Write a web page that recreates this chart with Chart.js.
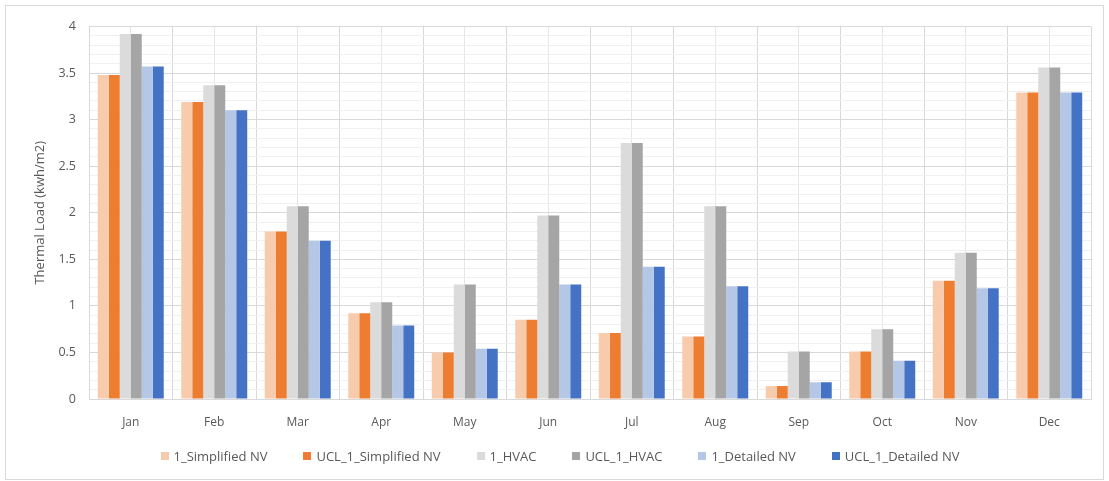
<!DOCTYPE html>
<html>
<head>
<meta charset="utf-8">
<script src="https://cdn.jsdelivr.net/npm/chart.js@4.4.1/dist/chart.umd.min.js"></script>
<style>
  html, body { margin: 0; padding: 0; background: #ffffff; }
  #frame {
    position: absolute; left: 5px; top: 5px;
    width: 1099px; height: 475px;
    box-sizing: border-box;
    border: 1px solid #d9d9d9;
    background: #ffffff;
  }
  #chart { display: block; }
  #legend {
    position: absolute; left: 0; top: 446px; width: 1120px; height: 20px;
    display: flex; justify-content: center; align-items: center;
    font-family: 'Open Sans', 'Liberation Sans', sans-serif;
    font-size: 13px; color: #595959; white-space: nowrap;
  }
  #legend .item { display: flex; align-items: center; margin: 0 18px; }
  #legend .swatch { width: 8px; height: 8px; margin-right: 5px; }
</style>
</head>
<body>
<div id="frame"><canvas id="chart" width="1097" height="473"></canvas></div>
<div id="legend"></div>
<script>
// Monthly thermal load per model variant (kWh/m2)
const months = ['Jan', 'Feb', 'Mar', 'Apr', 'May', 'Jun', 'Jul', 'Aug', 'Sep', 'Oct', 'Nov', 'Dec'];

const simplifiedNV    = [3.48, 3.19, 1.80, 0.92, 0.50, 0.85, 0.71, 0.67, 0.14, 0.51, 1.27, 3.29];
const uclSimplifiedNV = [3.48, 3.19, 1.80, 0.92, 0.50, 0.85, 0.71, 0.67, 0.14, 0.51, 1.27, 3.29];
const hvac            = [3.92, 3.37, 2.07, 1.04, 1.23, 1.97, 2.75, 2.07, 0.51, 0.75, 1.57, 3.56];
const uclHvac         = [3.92, 3.37, 2.07, 1.04, 1.23, 1.97, 2.75, 2.07, 0.51, 0.75, 1.57, 3.56];
const detailedNV      = [3.57, 3.10, 1.70, 0.79, 0.54, 1.23, 1.42, 1.21, 0.18, 0.41, 1.19, 3.29];
const uclDetailedNV   = [3.57, 3.10, 1.70, 0.79, 0.54, 1.23, 1.42, 1.21, 0.18, 0.41, 1.19, 3.29];

const yTicks = ['0', '0.5', '1', '1.5', '2', '2.5', '3', '3.5', '4'];

const seriesNames = ['1_Simplified NV', 'UCL_1_Simplified NV', '1_HVAC', 'UCL_1_HVAC', '1_Detailed NV', 'UCL_1_Detailed NV'];
const seriesColors = ['#f8cbad', '#ed7d31', '#dbdbdb', '#a5a5a5', '#b4c7e7', '#4472c4'];
const seriesData = [simplifiedNV, uclSimplifiedNV, hvac, uclHvac, detailedNV, uclDetailedNV];

const FONT = "'Open Sans', 'Liberation Sans', sans-serif";
const TEXT = '#595959';

const datasets = seriesNames.map((name, i) => ({
  label: name,
  data: seriesData[i],
  backgroundColor: seriesColors[i],
  borderWidth: 0,
  categoryPercentage: 0.79,
  barPercentage: 1.0,
  xAxisID: 'x',
  yAxisID: 'y'
}));

const isMajor = v => Math.abs(v * 2 - Math.round(v * 2)) < 1e-6;

const chart = new Chart(document.getElementById('chart'), {
  type: 'bar',
  data: { labels: months, datasets },
  options: {
    responsive: false,
    animation: false,
    devicePixelRatio: 1,
    layout: { padding: { left: 0, right: 12, top: 19, bottom: 39 } },
    plugins: {
      tooltip: { enabled: false },
      legend: { display: false }
    },
    scales: {
      x: {
        type: 'category',
        offset: true,
        grid: { offset: true, color: '#d9d9d9', lineWidth: 1, drawTicks: false },
        border: { display: true, color: '#d9d9d9' },
        ticks: { color: TEXT, padding: 16, font: { family: FONT, size: 12 } },
        afterFit: s => { s.height = 41; }
      },
      xCenter: {
        type: 'category',
        labels: months,
        offset: true,
        position: 'bottom',
        display: true,
        grid: { offset: false, color: '#e6e6e6', lineWidth: 1, drawTicks: false },
        border: { display: false },
        ticks: { display: false },
        afterFit: s => { s.height = 0; }
      },
      y: {
        min: 0,
        max: 4,
        grid: {
          color: ctx => isMajor(ctx.tick.value) ? '#d9d9d9' : '#f0f0f0',
          lineWidth: 1,
          drawTicks: false
        },
        border: { display: true, color: '#d9d9d9' },
        ticks: {
          stepSize: 0.1,
          autoSkip: false,
          padding: 13,
          color: TEXT,
          font: { family: FONT, size: 12.5 },
          callback: v => {
            if (!isMajor(v)) return '';
            return yTicks[Math.round(v * 2)];
          }
        },
        title: {
          display: true,
          text: 'Thermal Load (kwh/m2)',
          color: TEXT,
          font: { family: FONT, size: 13 },
          padding: { top: 26, bottom: 0 }
        },
        afterFit: s => { s.width = 83; }
      }
    }
  }
});

// Legend row built from the chart's datasets
const legendEl = document.getElementById('legend');
chart.data.datasets.forEach(ds => {
  const item = document.createElement('span');
  item.className = 'item';
  const sw = document.createElement('span');
  sw.className = 'swatch';
  sw.style.background = ds.backgroundColor;
  const label = document.createElement('span');
  label.textContent = ds.label;
  item.appendChild(sw);
  item.appendChild(label);
  legendEl.appendChild(item);
});
</script>
</body>
</html>
